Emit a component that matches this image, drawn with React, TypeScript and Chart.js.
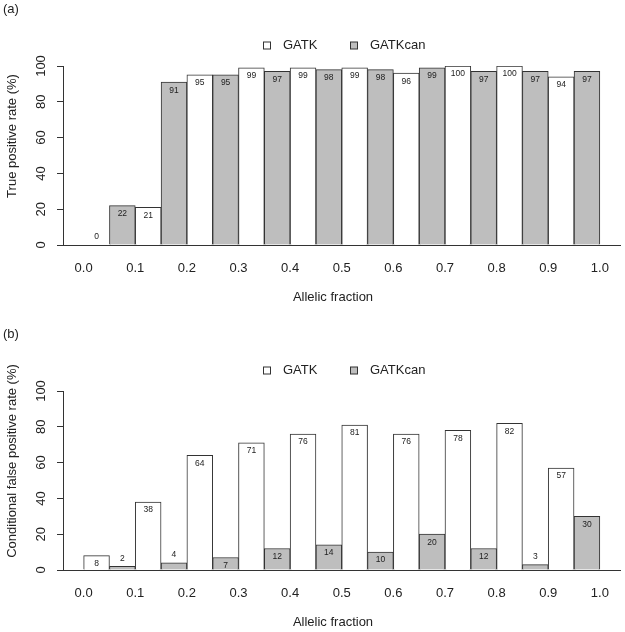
import React, { useEffect, useRef } from "react";
import { Chart, registerables } from "chart.js";

Chart.register(...registerables);

// ---- data ----
const BIN_CENTERS = [0.05, 0.15, 0.25, 0.35, 0.45, 0.55, 0.65, 0.75, 0.85, 0.95];
const X_TICKS = [0.0, 0.1, 0.2, 0.3, 0.4, 0.5, 0.6, 0.7, 0.8, 0.9, 1.0];
const Y_TICKS = [0, 20, 40, 60, 80, 100];
const SERIES_NAMES = ["GATK", "GATKcan"];
const TPR_GATK = [0, 21, 95, 99, 99, 99, 96, 100, 100, 94];
const TPR_GATKCAN = [22, 91, 95, 97, 98, 98, 99, 97, 97, 97];
const FPR_GATK = [8, 38, 64, 71, 76, 81, 76, 78, 82, 57];
const FPR_GATKCAN = [2, 4, 7, 12, 14, 10, 20, 12, 3, 30];
const X_TITLE = "Allelic fraction";

const FONT = '"Liberation Sans", Arial, Helvetica, sans-serif';
const TEXT = "#222222";
const LINE = "#333333";
const FILLS = ["#ffffff", "#bebebe"];

const W = 625;
const H = 307;

function makeDecor(tag: string, yTitle: string) {
  return {
    id: "decor",
    afterDatasetsDraw(chart: any) {
      const ctx = chart.ctx;
      const ys = chart.scales.y;
      ctx.save();
      ctx.font = `8.5px ${FONT}`;
      ctx.fillStyle = TEXT;
      ctx.textAlign = "center";
      ctx.textBaseline = "middle";
      chart.data.datasets.forEach((ds: any, di: number) => {
        const meta = chart.getDatasetMeta(di);
        meta.data.forEach((bar: any, i: number) => {
          const v = ds.data[i].y;
          const pos = v >= 5 ? v - 4.5 : v + 4.5;
          ctx.fillText(String(v), bar.x, ys.getPixelForValue(pos));
        });
      });
      ctx.restore();
    },
    afterDraw(chart: any) {
      const ctx = chart.ctx;
      ctx.save();
      ctx.fillStyle = TEXT;
      ctx.font = `13px ${FONT}`;
      ctx.textBaseline = "middle";
      ctx.textAlign = "left";
      ctx.fillText(tag, 3, 9);

      // legend
      const ly = 45.5;
      const boxX = [263, 350];
      const textX = [283, 370];
      SERIES_NAMES.forEach((name, i) => {
        ctx.fillStyle = FILLS[i];
        ctx.fillRect(boxX[i] + 0.5, ly - 3.5, 7, 7);
        ctx.strokeStyle = LINE;
        ctx.lineWidth = 1;
        ctx.strokeRect(boxX[i] + 0.5, ly - 3.5, 7, 7);
        ctx.fillStyle = TEXT;
        ctx.fillText(name, textX[i], ly);
      });

      // x title
      ctx.textAlign = "center";
      ctx.fillText(X_TITLE, 333, 297.5);

      // y title
      ctx.translate(12, 136);
      ctx.rotate(-Math.PI / 2);
      ctx.fillText(yTitle, 0, 0);
      ctx.restore();
    },
  };
}

function Panel({ tag, yTitle, gatk, gatkcan, top }: any) {
  const ref = useRef<HTMLCanvasElement | null>(null);
  useEffect(() => {
    if (!ref.current) return;
    const mk = (vals: number[]) => BIN_CENTERS.map((x, i) => ({ x, y: vals[i] }));
    const chart = new Chart(ref.current, {
      type: "bar",
      data: {
        datasets: [
          {
            label: SERIES_NAMES[0],
            data: mk(gatk),
            backgroundColor: FILLS[0],
            borderColor: LINE,
            borderWidth: 1,
            categoryPercentage: 1,
            barPercentage: 1,
          },
          {
            label: SERIES_NAMES[1],
            data: mk(gatkcan),
            backgroundColor: FILLS[1],
            borderColor: LINE,
            borderWidth: 1,
            categoryPercentage: 1,
            barPercentage: 1,
          },
        ],
      } as any,
      options: {
        responsive: false,
        animation: false,
        layout: { padding: { left: 0, right: 3, top: 66, bottom: 0 } },
        plugins: {
          legend: { display: false },
          title: { display: false },
          tooltip: { enabled: false },
        },
        scales: {
          x: {
            type: "linear",
            min: -0.04,
            max: 1.04,
            offset: false,
            grid: { display: false, drawTicks: false, offset: false },
            border: { display: true, color: LINE, width: 1 },
            afterBuildTicks: (axis: any) => {
              axis.ticks = X_TICKS.map((v) => ({ value: v }));
            },
            afterFit: (axis: any) => {
              axis.height = 62;
            },
            ticks: {
              autoSkip: false,
              minRotation: 0,
              maxRotation: 0,
              padding: 16,
              color: TEXT,
              font: { family: FONT, size: 13 },
              callback: (v: any) => Number(v).toFixed(1),
            },
          },
          y: {
            min: 0,
            max: 100,
            afterBuildTicks: (axis: any) => {
              axis.ticks = Y_TICKS.map((v) => ({ value: v }));
            },
            afterFit: (axis: any) => {
              axis.width = 63;
            },
            grid: {
              display: true,
              drawOnChartArea: false,
              drawTicks: true,
              tickLength: 6,
              color: LINE,
            },
            border: { display: true, color: LINE, width: 1 },
            ticks: {
              minRotation: 90,
              maxRotation: 90,
              crossAlign: "center",
              padding: 5,
              color: TEXT,
              font: { family: FONT, size: 13 },
            },
          },
        },
      } as any,
      plugins: [makeDecor(tag, yTitle)],
    });
    return () => chart.destroy();
  }, []);
  return (
    <canvas
      ref={ref}
      width={W}
      height={H}
      style={{ position: "absolute", left: 0, top, width: W, height: H, display: "block" }}
    />
  );
}

export default function App() {
  return (
    <div style={{ position: "absolute", left: 0, top: 0, width: W, height: 632, background: "#fff", overflow: "hidden" }}>
      <Panel tag="(a)" yTitle="True positive rate (%)" gatk={TPR_GATK} gatkcan={TPR_GATKCAN} top={0} />
      <Panel tag="(b)" yTitle="Conditional false positive rate (%)" gatk={FPR_GATK} gatkcan={FPR_GATKCAN} top={325} />
    </div>
  );
}
